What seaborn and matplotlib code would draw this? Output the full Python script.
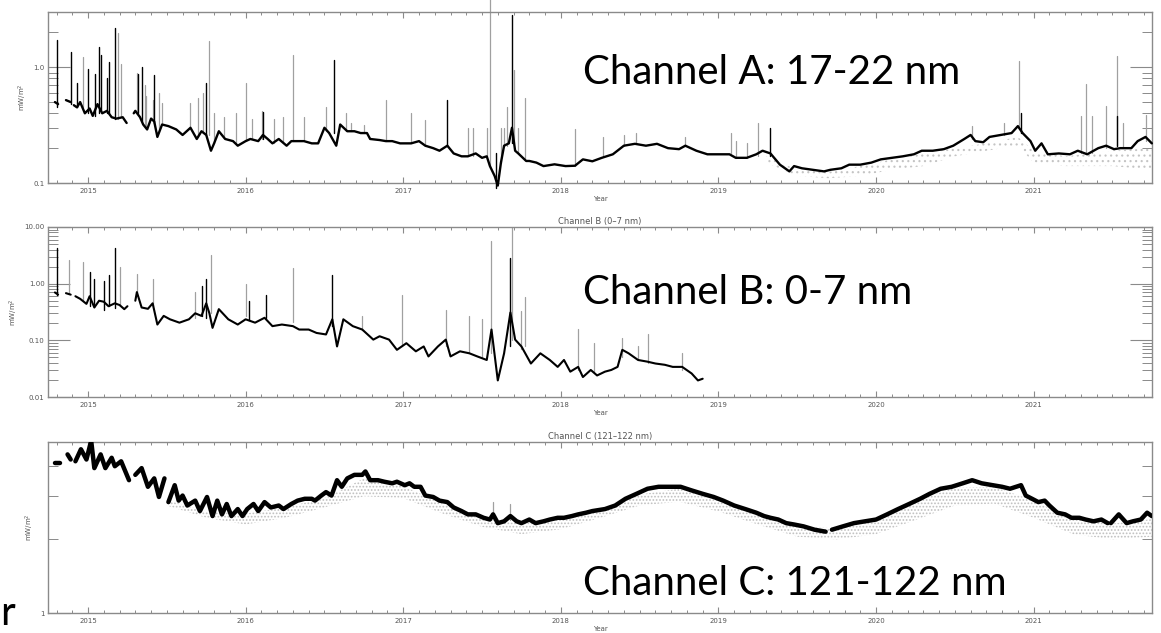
import numpy as np
import pandas as pd
import seaborn as sns
import matplotlib
matplotlib.use("Agg")
import matplotlib.pyplot as plt
from matplotlib.ticker import FixedLocator, FixedFormatter, LogLocator, NullFormatter, MultipleLocator

nan = np.nan

# ---------------- Channel A (17-22 nm) ----------------
A_year = [2014.79, 2014.81, nan, 2014.86, 2014.89, nan,
          2014.91, 2014.93, 2014.95, 2014.98, 2015.01, 2015.03, 2015.06, 2015.09, 2015.12, 2015.15,
          2015.18, 2015.22, 2015.245, nan,
          2015.29, 2015.30, 2015.33, 2015.35, 2015.375, 2015.40, 2015.42, 2015.44, 2015.47, 2015.51,
          2015.56, 2015.60, 2015.65, 2015.69, 2015.72, 2015.75, 2015.78, 2015.80, 2015.83, 2015.87,
          2015.92, 2015.95, 2016.00, 2016.03, 2016.08, 2016.11, 2016.14, 2016.17, 2016.21, 2016.26,
          2016.29, 2016.33, 2016.37, 2016.42, 2016.46, 2016.50, 2016.53, 2016.575, 2016.60, 2016.645,
          2016.69, 2016.73, 2016.77, 2016.79, 2016.85, 2016.89, 2016.93, 2016.98, 2017.05, 2017.10,
          2017.14, 2017.19, 2017.23, 2017.28, 2017.32, 2017.37, 2017.41, 2017.46, 2017.50, 2017.53,
          2017.55, 2017.58, 2017.60, 2017.62, 2017.64, 2017.67, 2017.69, 2017.71, 2017.73, 2017.78,
          2017.80, 2017.845, 2017.89, 2017.96, 2018.03, 2018.09, 2018.14, 2018.20, 2018.26, 2018.33,
          2018.40, 2018.47, 2018.54, 2018.61, 2018.68, 2018.75, 2018.79, 2018.86, 2018.93, 2019.00,
          2019.07, 2019.11, 2019.18, 2019.24, 2019.28, 2019.33, 2019.39, 2019.45, 2019.48, 2019.53,
          2019.60, 2019.67, 2019.71, 2019.78, 2019.83, 2019.90, 2019.97, 2020.03, 2020.10, 2020.17,
          2020.24, 2020.29, 2020.36, 2020.43, 2020.49, 2020.56, 2020.60, 2020.63, 2020.68, 2020.72,
          2020.79, 2020.86, 2020.90, 2020.93, 2020.98, 2021.01, 2021.05, 2021.09, 2021.16, 2021.23,
          2021.28, 2021.34, 2021.41, 2021.46, 2021.51, 2021.55, 2021.62, 2021.66, 2021.71, 2021.75]
A_value = [0.50, 0.48, nan, 0.52, 0.50, nan,
           0.47, 0.45, 0.50, 0.40, 0.44, 0.38, 0.48, 0.40, 0.42, 0.37,
           0.36, 0.37, 0.33, nan,
           0.40, 0.42, 0.37, 0.32, 0.29, 0.36, 0.34, 0.25, 0.32, 0.31,
           0.29, 0.26, 0.30, 0.24, 0.28, 0.26, 0.19, 0.22, 0.28, 0.24,
           0.23, 0.21, 0.23, 0.24, 0.23, 0.26, 0.24, 0.22, 0.24, 0.21,
           0.23, 0.23, 0.23, 0.22, 0.22, 0.30, 0.27, 0.21, 0.32, 0.28,
           0.28, 0.27, 0.27, 0.24, 0.235, 0.23, 0.23, 0.22, 0.22, 0.23,
           0.21, 0.20, 0.19, 0.21, 0.18, 0.17, 0.17, 0.18, 0.165, 0.17,
           0.14, 0.115, 0.095, 0.15, 0.21, 0.22, 0.30, 0.19, 0.18, 0.155,
           0.155, 0.15, 0.14, 0.145, 0.14, 0.141, 0.16, 0.154, 0.165, 0.177,
           0.21, 0.218, 0.21, 0.218, 0.20, 0.196, 0.21, 0.19, 0.177, 0.177,
           0.177, 0.165, 0.165, 0.177, 0.19, 0.18, 0.144, 0.126, 0.14, 0.134,
           0.13, 0.126, 0.13, 0.134, 0.144, 0.144, 0.15, 0.16, 0.165, 0.17,
           0.177, 0.19, 0.19, 0.196, 0.21, 0.24, 0.26, 0.23, 0.225, 0.25,
           0.26, 0.27, 0.31, 0.27, 0.23, 0.19, 0.22, 0.177, 0.18, 0.177,
           0.19, 0.177, 0.20, 0.21, 0.196, 0.20, 0.20, 0.23, 0.25, 0.22]

A_gray_spike_year = [2014.97, 2015.19, 2015.21, 2015.31, 2015.36, 2015.45, 2015.77, 2015.80, 2016.00, 2016.30,
                     2016.37, 2016.64, 2016.89, 2017.05, 2017.14, 2017.41, 2017.55, 2017.64, 2017.70, 2017.73,
                     2017.77, 2018.09, 2018.27, 2018.40, 2018.48, 2018.79, 2019.08, 2019.11, 2019.18, 2019.25,
                     2020.61, 2020.81, 2020.91, 2021.30, 2021.33, 2021.37, 2021.46, 2021.53, 2021.57, 2021.71,
                     2015.37, 2015.41, 2015.47, 2015.65, 2015.70, 2015.73, 2015.86, 2015.94, 2016.04, 2016.105,
                     2016.18, 2016.24, 2016.51, 2016.67, 2016.75, 2017.44, 2017.53, 2017.62, 2017.66]
A_gray_spike_base = [0.45, 0.36, 0.37, 0.42, 0.32, 0.28, 0.26, 0.22, 0.23, 0.23,
                     0.23, 0.28, 0.23, 0.22, 0.21, 0.17, 0.14, 0.21, 0.22, 0.18,
                     0.16, 0.14, 0.17, 0.21, 0.22, 0.21, 0.18, 0.165, 0.165, 0.17,
                     0.24, 0.26, 0.31, 0.18, 0.18, 0.18, 0.20, 0.21, 0.20, 0.23,
                     0.30, 0.34, 0.32, 0.30, 0.25, 0.27, 0.25, 0.22, 0.24, 0.24,
                     0.22, 0.22, 0.28, 0.28, 0.27, 0.17, 0.17, 0.15, 0.21]
A_gray_spike_top = [1.23, 1.99, 1.07, 0.90, 0.70, 0.60, 1.67, 0.40, 0.73, 1.27,
                    0.37, 0.40, 0.52, 0.40, 0.35, 0.30, 3.9, 0.30, 0.95, 0.30,
                    0.54, 0.29, 0.25, 0.26, 0.27, 0.25, 0.27, 0.23, 0.22, 0.33,
                    0.31, 0.33, 1.13, 0.38, 0.72, 0.38, 0.46, 1.25, 0.33, 0.39,
                    0.56, 0.52, 0.49, 0.49, 0.54, 0.60, 0.37, 0.40, 0.36, 0.42,
                    0.36, 0.37, 0.45, 0.33, 0.32, 0.30, 0.30, 0.30, 0.45]

A_black_spike_year = [2014.80, 2014.89, 2015.00, 2015.07, 2015.12, 2015.17, 2015.34, 2015.42, 2015.75, 2016.11,
                      2016.56, 2017.28, 2017.59, 2017.69, 2019.33, 2020.92, 2021.53,
                      2014.93, 2015.045, 2015.08, 2015.135, 2015.32]
A_black_spike_base = [0.45, 0.48, 0.40, 0.40, 0.40, 0.36, 0.34, 0.33, 0.26, 0.24,
                      0.27, 0.21, 0.09, 0.22, 0.17, 0.27, 0.21,
                      0.45, 0.38, 0.42, 0.40, 0.40]
A_black_spike_top = [1.73, 1.36, 0.97, 1.51, 0.80, 2.20, 1.00, 0.85, 0.73, 0.41,
                     1.15, 0.52, 0.18, 2.80, 0.30, 0.40, 0.38,
                     0.73, 0.87, 1.27, 1.11, 0.87]

A_band_year = [2019.3, 2019.5, 2019.7, 2019.9, 2020.1, 2020.3, 2020.5, 2020.7, 2020.9, 2021.0, 2021.2, 2021.5, 2021.75]
A_band_high = [0.17, 0.13, 0.125, 0.14, 0.16, 0.18, 0.20, 0.22, 0.25, 0.19, 0.17, 0.19, 0.20]
A_band_low = [0.15, 0.115, 0.11, 0.115, 0.13, 0.14, 0.17, 0.19, 0.21, 0.15, 0.14, 0.14, 0.13]

# ---------------- Channel B (0-7 nm) ----------------
B_year = [2014.79, 2014.81, nan, 2014.86, 2014.89, nan,
          2014.92, 2014.95, 2014.99, 2015.01, 2015.04, 2015.07, 2015.10, 2015.13, 2015.17, 2015.20,
          2015.23, 2015.25, nan,
          2015.30, 2015.31, 2015.34, 2015.38, 2015.41, 2015.44, 2015.48, 2015.52, 2015.58, 2015.64,
          2015.68, 2015.72, 2015.75, 2015.77, 2015.79, 2015.83, 2015.89, 2015.95, 2016.00, 2016.06,
          2016.12, 2016.17, 2016.23, 2016.30, 2016.34, 2016.40, 2016.45, 2016.51, 2016.55, 2016.58,
          2016.62, 2016.68, 2016.74, 2016.81, 2016.85, 2016.91, 2016.96, 2017.02, 2017.08, 2017.13,
          2017.16, 2017.22, 2017.27, 2017.30, 2017.36, 2017.42, 2017.47, 2017.53, 2017.56, 2017.60,
          2017.64, 2017.68, 2017.71, 2017.75, 2017.81, 2017.87, 2017.93, 2017.98, 2018.02, 2018.06,
          2018.11, 2018.14, 2018.19, 2018.23, 2018.28, 2018.32, 2018.36, 2018.39, 2018.43, 2018.49,
          2018.55, 2018.60, 2018.66, 2018.71, 2018.77, 2018.83, 2018.87, 2018.90]
B_value = [0.70, 0.64, nan, 0.68, 0.64, nan,
           0.60, 0.54, 0.44, 0.60, 0.38, 0.50, 0.48, 0.40, 0.45, 0.42,
           0.355, 0.40, nan,
           0.50, 0.71, 0.38, 0.36, 0.45, 0.19, 0.27, 0.235, 0.205, 0.235,
           0.30, 0.27, 0.45, 0.30, 0.166, 0.355, 0.235, 0.19, 0.235, 0.205,
           0.25, 0.178, 0.19, 0.178, 0.155, 0.155, 0.135, 0.127, 0.235, 0.078,
           0.235, 0.178, 0.155, 0.103, 0.118, 0.103, 0.068, 0.089, 0.064, 0.078,
           0.052, 0.078, 0.103, 0.052, 0.064, 0.059, 0.052, 0.045, 0.155, 0.0196,
           0.059, 0.31, 0.103, 0.078, 0.039, 0.059, 0.045, 0.034, 0.045, 0.028,
           0.034, 0.0225, 0.030, 0.024, 0.028, 0.030, 0.034, 0.068, 0.059, 0.045,
           0.042, 0.039, 0.037, 0.034, 0.034, 0.026, 0.0196, 0.021]

B_gray_spike_year = [2014.88, 2014.97, 2015.20, 2015.31, 2015.41, 2015.68, 2015.78, 2016.00, 2016.30, 2017.27,
                     2017.56, 2017.69, 2017.75, 2018.11, 2018.39, 2018.77,
                     2016.74, 2016.99, 2017.42, 2017.50, 2017.77, 2018.21, 2018.49, 2018.55]
B_gray_spike_base = [0.66, 0.50, 0.40, 0.71, 0.40, 0.25, 0.30, 0.27, 0.21, 0.08,
                     0.06, 0.10, 0.07, 0.03, 0.05, 0.03,
                     0.155, 0.08, 0.06, 0.05, 0.08, 0.027, 0.045, 0.04]
B_gray_spike_top = [2.6, 2.45, 2.0, 1.5, 1.23, 0.70, 3.2, 0.97, 1.86, 0.34,
                    5.6, 10.0, 0.33, 0.16, 0.11, 0.06,
                    0.27, 0.62, 0.27, 0.235, 0.58, 0.089, 0.078, 0.127]

B_black_spike_year = [2014.80, 2015.01, 2015.10, 2015.17, 2015.75, 2016.13, 2016.55, 2017.68,
                      2015.04, 2015.13, 2015.72, 2016.02]
B_black_spike_base = [0.62, 0.40, 0.35, 0.37, 0.25, 0.25, 0.18, 0.08,
                      0.38, 0.40, 0.27, 0.23]
B_black_spike_top = [4.25, 1.6, 1.1, 4.25, 1.23, 0.63, 1.41, 2.8,
                     1.2, 1.4, 0.9, 0.5]

# ---------------- Channel C (121-122 nm) ----------------
C_year = [2014.79, 2014.82, nan, 2014.87, 2014.89, nan,
          2014.92, 2014.955, 2014.99, 2015.02, 2015.04, 2015.08, 2015.11, 2015.15, 2015.17, 2015.21,
          2015.26, nan,
          2015.30, 2015.34, 2015.38, 2015.42, 2015.45, 2015.485, nan,
          2015.51, 2015.55, 2015.575, 2015.60, 2015.63, 2015.68, 2015.71, 2015.755, 2015.79, 2015.82,
          2015.85, 2015.88, 2015.91, 2015.95, 2015.98, 2016.01, 2016.05, 2016.08, 2016.12, 2016.16,
          2016.21, 2016.24, 2016.29, 2016.33, 2016.375, 2016.42, 2016.44, 2016.48, 2016.51, 2016.545,
          2016.58, 2016.61, 2016.645, 2016.69, 2016.74, 2016.76, 2016.79, 2016.84, 2016.88, 2016.93,
          2016.96, 2017.01, 2017.04, 2017.07, 2017.11, 2017.14, 2017.19, 2017.23, 2017.28, 2017.32,
          2017.37, 2017.41, 2017.46, 2017.51, 2017.55, 2017.57, 2017.60, 2017.64, 2017.68, 2017.72,
          2017.75, 2017.80, 2017.84, 2017.89, 2017.93, 2017.98, 2018.02, 2018.07, 2018.11, 2018.16,
          2018.20, 2018.28, 2018.345, 2018.41, 2018.48, 2018.55, 2018.62, 2018.69, 2018.76, 2018.83,
          2018.90, 2018.97, 2019.03, 2019.10, 2019.17, 2019.24, 2019.29, 2019.33, 2019.38, 2019.43,
          2019.48, 2019.54, 2019.61, 2019.68, nan,
          2019.72, 2019.79, 2019.86, 2019.93, 2020.00, 2020.07, 2020.14, 2020.21, 2020.28, 2020.34,
          2020.41, 2020.48, 2020.55, 2020.61, 2020.67, 2020.74, 2020.80, 2020.85, 2020.92, 2020.95,
          2020.99, 2021.03, 2021.07, 2021.10, 2021.15, 2021.20, 2021.24, 2021.29, 2021.33, 2021.38,
          2021.43, 2021.47, nan,
          2021.49, 2021.54, 2021.59, 2021.63, 2021.68, 2021.72, 2021.75]
C_value = [4.11, 4.11, nan, 4.45, 4.24, nan,
           4.17, 4.67, 4.24, 5.06, 3.91, 4.45, 3.91, 4.31, 3.98, 4.17,
           3.49, nan,
           3.67, 3.91, 3.28, 3.55, 2.98, 3.55, nan,
           2.84, 3.33, 2.88, 3.02, 2.75, 2.88, 2.61, 2.98, 2.49, 2.88,
           2.53, 2.79, 2.49, 2.66, 2.49, 2.66, 2.79, 2.61, 2.84, 2.70,
           2.75, 2.66, 2.79, 2.88, 2.93, 2.93, 2.88, 3.02, 3.12, 3.02,
           3.49, 3.28, 3.55, 3.67, 3.67, 3.79, 3.49, 3.49, 3.44, 3.39,
           3.44, 3.33, 3.39, 3.28, 3.28, 3.02, 2.98, 2.88, 2.84, 2.70,
           2.61, 2.53, 2.53, 2.45, 2.41, 2.53, 2.33, 2.37, 2.49, 2.37,
           2.33, 2.41, 2.33, 2.37, 2.41, 2.45, 2.45, 2.49, 2.53, 2.57,
           2.61, 2.66, 2.75, 2.93, 3.07, 3.22, 3.28, 3.28, 3.28, 3.17,
           3.07, 2.98, 2.88, 2.75, 2.66, 2.57, 2.49, 2.45, 2.41, 2.33,
           2.30, 2.26, 2.19, 2.15, nan,
           2.19, 2.26, 2.33, 2.37, 2.41, 2.53, 2.66, 2.79, 2.93, 3.07,
           3.22, 3.28, 3.39, 3.49, 3.39, 3.33, 3.28, 3.22, 3.33, 3.02,
           2.93, 2.84, 2.88, 2.75, 2.57, 2.53, 2.45, 2.45, 2.41, 2.37,
           2.41, 2.33, nan,
           2.33, 2.53, 2.33, 2.37, 2.41, 2.57, 2.49]

C_gray_spike_year = [2017.57, 2017.68]
C_gray_spike_base = [2.45, 2.40]
C_gray_spike_top = [2.84, 2.79]

C_band_year = [2015.5, 2015.75, 2016.0, 2016.25, 2016.5, 2016.75, 2017.0, 2017.25, 2017.5, 2017.75,
               2018.0, 2018.25, 2018.5, 2018.75, 2019.0, 2019.25, 2019.5, 2019.75, 2020.0, 2020.25,
               2020.5, 2020.75, 2021.0, 2021.25, 2021.5, 2021.75]
C_band_high = [2.9, 2.6, 2.55, 2.7, 2.95, 3.55, 3.3, 2.8, 2.42, 2.32, 2.42, 2.62, 3.05, 3.22, 2.88, 2.52,
               2.26, 2.22, 2.38, 2.88, 3.25, 3.28, 2.88, 2.42, 2.32, 2.42]
C_band_low = [2.75, 2.45, 2.3, 2.45, 2.7, 3.0, 2.95, 2.55, 2.25, 2.1, 2.2, 2.45, 2.75, 2.85, 2.6, 2.3,
              2.05, 2.0, 2.1, 2.4, 2.75, 2.8, 2.45, 2.1, 2.0, 2.05]

year_ticks = [2015, 2016, 2017, 2018, 2019, 2020, 2021]
year_labels = ["2015", "2016", "2017", "2018", "2019", "2020", "2021"]
A_yticks, A_ylabels = [0.1, 1.0], ["0.1", "1.0"]
B_yticks, B_ylabels = [0.01, 0.1, 1.0, 10.0], ["0.01", "0.10", "1.00", "10.00"]
C_yticks, C_ylabels = [1.0], ["1"]

titles = ["Channel B (0\u20137 nm)", "Channel C (121\u2013122 nm)"]
big_texts = ["Channel A: 17-22 nm", "Channel B: 0-7 nm", "Channel C: 121-122 nm"]

# ---------------- drawing ----------------
sns.set_theme(style="white")
plt.rcParams["font.family"] = ["DejaVu Sans"]
plt.rcParams["hatch.linewidth"] = 0.8

W, H = 1161, 633
fig = plt.figure(figsize=(W / 100, H / 100), dpi=100)
fig.patch.set_facecolor("white")


def rect(top, bottom):
    return [48 / W, 1 - bottom / H, 1104 / W, (bottom - top) / H]


axA = fig.add_axes(rect(12, 183))
axB = fig.add_axes(rect(227, 397))
axC = fig.add_axes(rect(442, 613))
for ax in (axA, axB, axC):
    ax.set_yscale("log")


def series_df(years, values):
    y = np.asarray(years, float)
    v = np.asarray(values, float)
    seg = np.cumsum(np.isnan(y))
    m = ~np.isnan(y)
    return pd.DataFrame({"year": y[m], "value": v[m], "seg": seg[m]})


def spikes_df(years, bases, tops):
    n = len(years)
    vals = np.column_stack([bases, tops]).ravel()
    return pd.DataFrame({"year": np.repeat(years, 2), "value": vals, "seg": np.repeat(np.arange(n), 2)})


def draw(ax, df, color, lw, z=3):
    sns.lineplot(data=df, x="year", y="value", units="seg", estimator=None, sort=False,
                 color=color, lw=lw, ax=ax, legend=False, zorder=z)


GRAY = "#a0a0a0"
# Panel A
axA.fill_between(A_band_year, A_band_low, A_band_high, facecolor="none", edgecolor="#c4c4c4",
                 hatch="...", lw=0, zorder=1)
draw(axA, spikes_df(A_gray_spike_year, A_gray_spike_base, A_gray_spike_top), GRAY, 0.9, 2)
draw(axA, series_df(A_year, A_value), "black", 1.7, 3)
draw(axA, spikes_df(A_black_spike_year, A_black_spike_base, A_black_spike_top), "black", 1.0, 4)
for ln in axA.lines:
    ln.set_clip_on(False)

# Panel B
draw(axB, spikes_df(B_gray_spike_year, B_gray_spike_base, B_gray_spike_top), GRAY, 0.9, 2)
draw(axB, series_df(B_year, B_value), "black", 1.5, 3)
draw(axB, spikes_df(B_black_spike_year, B_black_spike_base, B_black_spike_top), "black", 1.0, 4)

# Panel C
axC.fill_between(C_band_year, C_band_low, C_band_high, facecolor="none", edgecolor="#bfbfbf",
                 hatch=".....", lw=0, zorder=1)
draw(axC, spikes_df(C_gray_spike_year, C_gray_spike_base, C_gray_spike_top), GRAY, 0.9, 2)
draw(axC, series_df(C_year, C_value), "black", 3.2, 3)

SPINE = "#8a8a8a"
LAB = "#555555"


def style(ax, ylim, yt, yl):
    ax.set_xlim(2014.746, 2021.751)
    ax.set_ylim(*ylim)
    ax.xaxis.set_major_locator(FixedLocator(year_ticks))
    ax.xaxis.set_major_formatter(FixedFormatter(year_labels))
    ax.xaxis.set_minor_locator(MultipleLocator(0.1))
    ax.yaxis.set_major_locator(FixedLocator(yt))
    ax.yaxis.set_major_formatter(FixedFormatter(yl))
    ax.yaxis.set_minor_locator(LogLocator(base=10, subs=np.arange(2, 10)))
    ax.yaxis.set_minor_formatter(NullFormatter())
    ax.tick_params(axis="x", which="major", direction="in", length=4.5, width=0.8, color=SPINE,
                   top=True, bottom=True, labelsize=5, labelcolor=LAB, pad=3.5)
    ax.tick_params(axis="x", which="minor", direction="in", length=2.5, width=0.7, color=SPINE,
                   top=True, bottom=True)
    ax.tick_params(axis="y", which="major", direction="in", length=16, width=0.8, color=SPINE,
                   left=True, right=True, labelsize=5, labelcolor=LAB, pad=2.5)
    ax.tick_params(axis="y", which="minor", direction="in", length=7.5, width=0.7, color=SPINE,
                   left=True, right=True)
    for s in ax.spines.values():
        s.set_color(SPINE)
        s.set_linewidth(1.0)
    ax.set_xlabel("Year", fontsize=5, color=LAB, labelpad=1.5)
    ax.set_ylabel("mW/m$^2$", fontsize=5, color=LAB, labelpad=3)
    ax.set_facecolor("white")
    ax.grid(False)


style(axA, (0.1, 3.0), A_yticks, A_ylabels)
style(axB, (0.01, 10.0), B_yticks, B_ylabels)
style(axC, (1.0, 5.0), C_yticks, C_ylabels)
axB.set_title(titles[0], fontsize=6, color=LAB, pad=2.5)
axC.set_title(titles[1], fontsize=6, color=LAB, pad=2.5)

# Large overlay annotations
big_font = ["Lato", "DejaVu Sans"]
baselines = [84, 304, 595]
txts = []
for s, b in zip(big_texts, baselines):
    t = fig.text(583 / W, 1 - b / H, s, fontsize=30, family=big_font, color="black",
                 ha="left", va="baseline", zorder=10)
    txts.append(t)
tr = fig.text(0 / W, 1 - 625 / H, "r", fontsize=30, family=big_font, color="black",
              ha="left", va="baseline", zorder=10)
fig.canvas.draw()
renderer = fig.canvas.get_renderer()
w = txts[0].get_window_extent(renderer).width
fs = 30 * 377 / w
for t in txts + [tr]:
    t.set_fontsize(fs)

fig.savefig("out.png", dpi=100, facecolor="white")
